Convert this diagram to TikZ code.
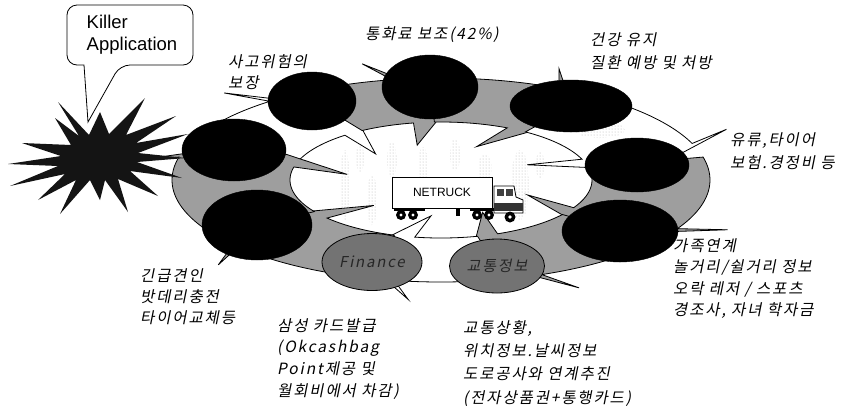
\documentclass[tikz,border=0pt]{standalone}
\usepackage{fontspec}
\setmainfont{Liberation Sans}
\newfontfamily\krfont[FakeSlant=0.2,LetterSpace=12]{Noto Sans CJK KR}
\usetikzlibrary{shapes.geometric,patterns}
\definecolor{ringgray}{gray}{0.62}
\definecolor{ellgray}{gray}{0.45}
\begin{document}
\begin{tikzpicture}[x=1pt,y=1pt,
  ringarrow/.style={draw=black, line width=0.8pt, line join=miter},
  blackell/.style={ellipse, fill=black, draw=black, inner sep=0pt},
  grayell/.style={ellipse, fill=ellgray, draw=black, line width=0.8pt, inner sep=0pt,
    font=\krfont\fontsize{15}{17}\selectfont, text=black!85},
  lbl/.style={font=\krfont\fontsize{15.5}{#1}\selectfont, align=left, anchor=north west, inner sep=0pt},
  lbl/.default=21,
  stipple/.style={pattern=dots, pattern color=gray!60},
  hub/.style={fill=white}
]
\fill[white] (0,0) rectangle (854,-408);
\useasboundingbox (0,0) rectangle (854,-408);

% ring of curved arrows running clockwise: start angle / end angle / fill
\foreach \s/\e/\col in {159/121.5/white, 121.5/92.5/ringgray, 92.5/56/ringgray,
    56/13/white, 13/-36.5/ringgray, -36.5/-76/ringgray, -76/-108/white,
    -108/-147/ringgray, 213/159/ringgray}{
  \pgfmathsetmacro\hb{\e+8}
  \pgfmathsetmacro\ht{\e-6}
  \filldraw[ringarrow, fill=\col]
    plot[domain=\s:\hb, samples=30] ({441+269*cos(\x)},{-180+102*sin(\x)})
    -- ({441+315*cos(\hb+4)},{-180+120*sin(\hb+4)})
    -- ({441+210*cos(\ht)},{-180+80*sin(\ht)})
    -- ({441+95*cos(\hb+4)},{-180+36*sin(\hb+4)})
    -- plot[domain=\hb:\s, samples=30] ({441+151*cos(\x)},{-180+58*sin(\x)})
    -- cycle;
}

% faint stippled trees behind the truck
\fill[stipple] (345,-185) ellipse [x radius=5, y radius=35];
\fill[stipple] (372,-200) ellipse [x radius=5, y radius=25];
\fill[stipple] (360,-158) ellipse [x radius=4, y radius=14];
\fill[stipple] (392,-160) ellipse [x radius=5, y radius=18];
\fill[stipple] (423,-165) ellipse [x radius=5, y radius=18];
\fill[stipple] (455,-155) ellipse [x radius=5, y radius=16];
\fill[stipple] (485,-168) ellipse [x radius=7, y radius=14];
\fill[stipple] (520,-185) ellipse [x radius=9, y radius=35];
\fill[stipple] (540,-165) ellipse [x radius=4, y radius=14];
\fill[stipple] (600,-130) ellipse [x radius=25, y radius=8];

% truck
\node[draw, line width=0.9pt, fill=white, minimum width=100pt, minimum height=31pt,
  inner sep=0pt, font=\fontsize{12}{14}\selectfont] (trailer) at (442,-192.5) {NETRUCK\hspace{10pt}};
\fill (394,-208) rectangle (425,-211);
\fill (470,-208) rectangle (495,-211);
\fill (456,-209) rectangle (460,-216);
\foreach \wx in {401,413,477,489}{
  \fill (\wx,-215) circle (5);
  \fill[hub] (\wx,-215) circle (1.6);
}
\draw[fill=white, line width=0.8pt] (494,-186) -- (514,-186) -- (516,-197) -- (523,-200)
  -- (523,-213) -- (494,-213) -- cycle;
\fill[black!75] (497,-189) rectangle (504,-196);
\fill[black!75] (506,-189) rectangle (513,-196);
\fill[black!80] (494,-203) rectangle (523,-211);
\fill (510,-217) circle (5.5);
\fill[hub] (510,-217) circle (1.8);

% starburst
\fill[black!92] (145,-98) -- (126,-135) -- (176,-116) -- (136,-143) -- (188,-134)
  -- (138,-153) -- (186,-158) -- (137,-162) -- (182,-178) -- (130,-171) -- (158,-196)
  -- (118,-179) -- (128,-212) -- (105,-180) -- (100,-200) -- (90,-180) -- (60,-214)
  -- (76,-180) -- (38,-200) -- (65,-174) -- (10,-186) -- (58,-166) -- (8,-164)
  -- (61,-156) -- (22,-143) -- (71,-145) -- (55,-118) -- (79,-136) -- (58,-102)
  -- (89,-135) -- (100,-112) -- (109,-134) -- cycle;

% ellipses on the ring
\node[blackell, minimum width=104pt, minimum height=62pt] (e1) at (234,-150) {};
\node[blackell, minimum width=88pt, minimum height=58pt] (e2) at (312,-101) {};
\node[blackell, minimum width=96pt, minimum height=64pt] (e3) at (430,-87) {};
\node[blackell, minimum width=122pt, minimum height=52pt] (e4) at (571,-106) {};
\node[blackell, minimum width=104pt, minimum height=54pt] (e5) at (637,-165) {};
\node[blackell, minimum width=116pt, minimum height=62pt] (e6) at (620,-231) {};
\node[grayell, minimum width=95pt, minimum height=54pt] (e7) at (497,-266) {교통정보};
\node[grayell, minimum width=100pt, minimum height=57pt] (e8) at (372,-262) {Finance};
\node[blackell, minimum width=110pt, minimum height=70pt] (e9) at (257,-225) {};

% speech bubble
\draw[fill=white, line width=0.8pt] (120,-65) -- (88,-122) -- (84,-65)
  [rounded corners=10pt] -- (67,-65) -- (67,-5) -- (193,-5) -- (193,-65) -- cycle;
\node[align=left, font=\fontsize{18.5}{22}\selectfont, inner sep=0pt] (killer) at (132,-35)
  {Killer\\Application};

% labels
\node[lbl] (t1) at (228,-54) {사고위험의\\보장};
\node[lbl] (t2) at (365,-26) {통화료 보조(42\%)};
\node[lbl=23] (t3) at (590,-32) {건강 유지\\질환 예방 및 처방};
\node[lbl=23] (t4) at (730,-132) {유류,타이어\\보험.경정비 등};
\node[lbl=21] (t5) at (140,-268) {긴급견인\\밧데리충전\\타이어교체등};
\node[lbl=21.7] (t6) at (277,-318) {삼성 카드발급\\(Okcashbag\\Point제공 및\\월회비에서 차감)};
\node[lbl=23.3] (t7) at (463,-320) {교통상황,\\위치정보.날씨정보\\도로공사와 연계추진\\(전자상품권+통행카드)};
\node[lbl=21.5] (t8) at (673,-238) {가족연계\\놀거리/쉴거리 정보\\오락 레저 / 스포츠\\경조사, 자녀 학자금};
\end{tikzpicture}
\end{document}
